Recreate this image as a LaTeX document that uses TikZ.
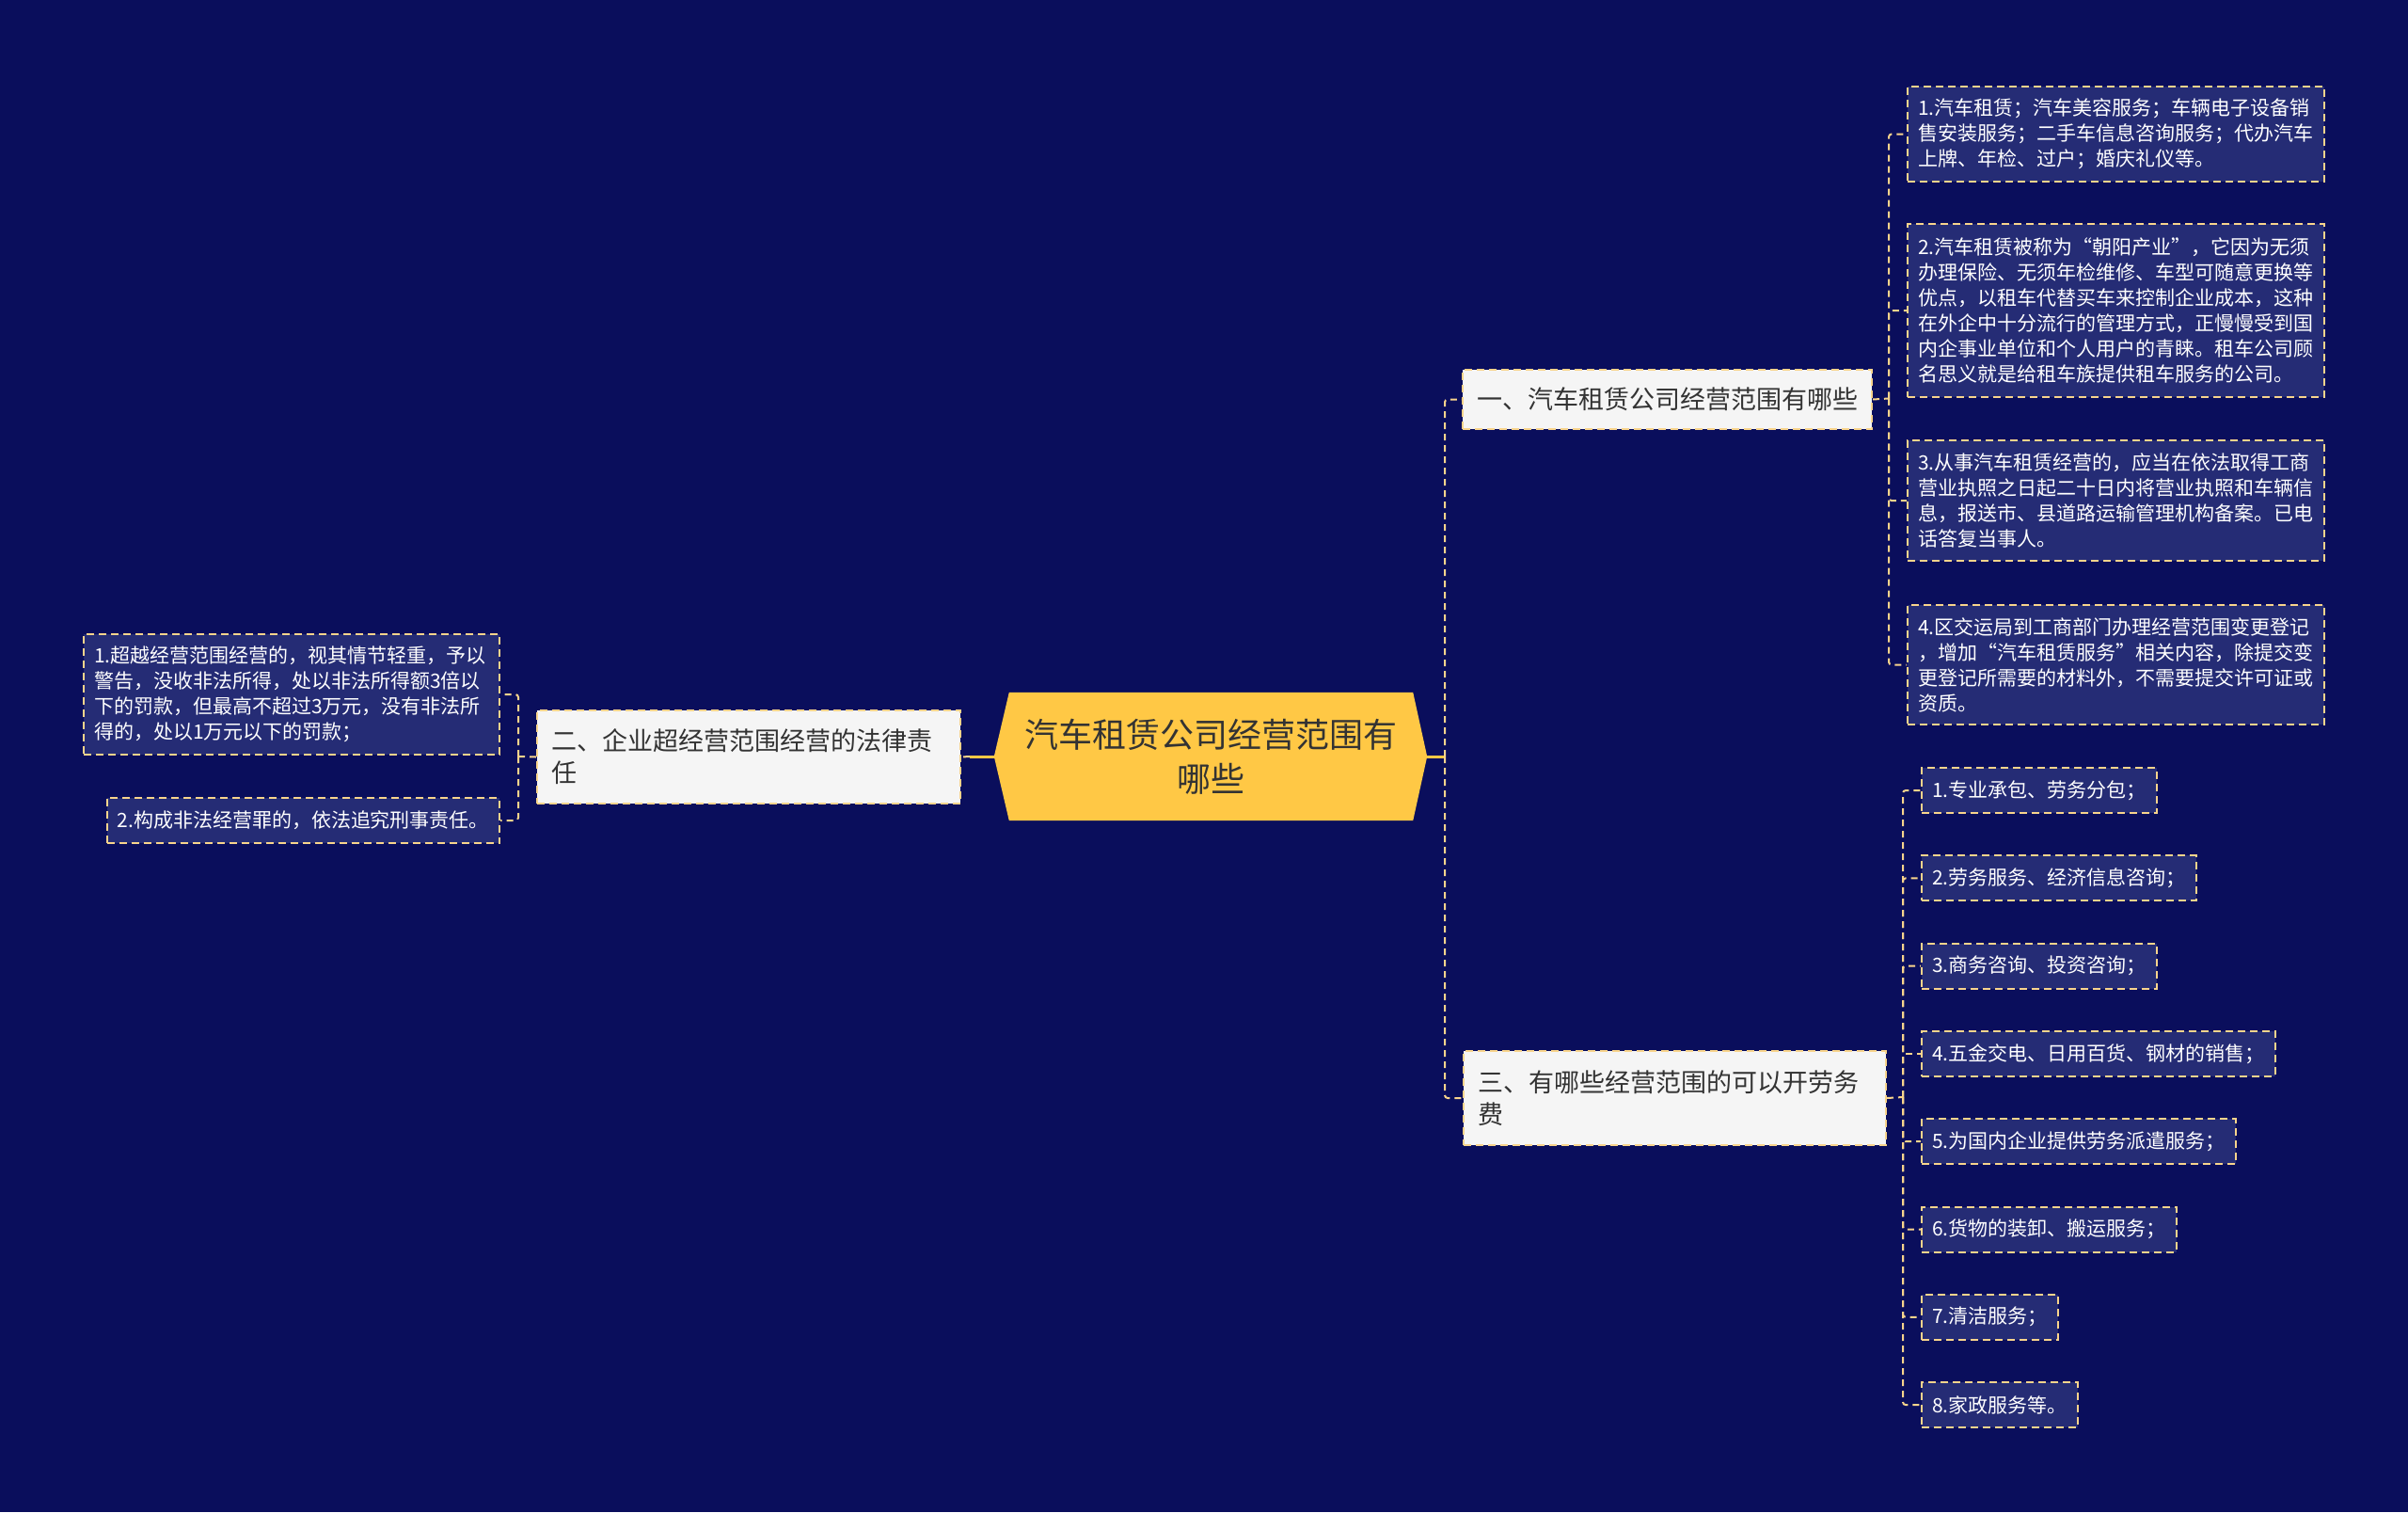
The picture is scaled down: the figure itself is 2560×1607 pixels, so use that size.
\documentclass[tikz,border=0pt]{standalone}
\usepackage{fontspec}
\setmainfont{Noto Sans CJK SC}
\usetikzlibrary{positioning,backgrounds}
\definecolor{PageNavy}{RGB}{10,14,92}
\definecolor{LeafNavy}{RGB}{37,44,117}
\definecolor{CoreYellow}{RGB}{255,200,69}
\definecolor{LinkYellow}{RGB}{248,212,140}
\definecolor{BranchFill}{RGB}{245,245,245}
\definecolor{InkGray}{RGB}{51,51,51}
\tikzset{
  rootnode/.style={minimum width=460pt,minimum height=136pt,align=center,
    text=InkGray,font=\fontsize{36pt}{47pt}\selectfont},
  branchbox/.style={draw=LinkYellow,fill=BranchFill,line width=2pt,
    dash pattern=on 8pt off 5pt,inner xsep=15pt,align=left,text=InkGray,
    font=\fontsize{27pt}{34pt}\selectfont},
  leafbox/.style={draw=LinkYellow,fill=LeafNavy,line width=2pt,
    dash pattern=on 8pt off 5pt,inner xsep=11pt,inner ysep=10pt,align=left,
    text=white,font=\fontsize{21pt}{27pt}\selectfont},
  link/.style={draw=LinkYellow,line width=2pt,dash pattern=on 7pt off 5pt,
    rounded corners=3pt},
  rootlink/.style={draw=CoreYellow,line width=3pt}
}

\begin{document}
\begin{tikzpicture}[x=1pt,y=-1pt]
  \begin{scope}[on background layer]
    \fill[PageNavy] (0,0) rectangle (2560,1607);
  \end{scope}
  \useasboundingbox (0,0) rectangle (2560,1607);

  % centre
  \node[rootnode] (root) at (1287,804) {汽车租赁公司经营范围有\\哪些};
  \begin{scope}[on background layer]
    \fill[CoreYellow] (root.west) -- ([xshift=16pt]root.north west)
      -- ([xshift=-15pt]root.north east) -- (root.east)
      -- ([xshift=-15pt]root.south east) -- ([xshift=16pt]root.south west)
      -- cycle;
  \end{scope}

  % branches
  \node[branchbox,text width=405pt,minimum height=63pt,anchor=north west]
    (scopebox) at (1554,392) {一、汽车租赁公司经营范围有哪些};
  \node[branchbox,text width=420pt,minimum height=99pt,anchor=north west]
    (lawbox) at (570,754) {二、企业超经营范围经营的法律责\\任};
  \node[branchbox,text width=419pt,minimum height=100pt,anchor=north west]
    (laborbox) at (1555,1116) {三、有哪些经营范围的可以开劳务\\费};

  % scope leaves
  \node[leafbox,text width=421pt,minimum height=101pt,anchor=north west]
    (rent1) at (2027,91) {1.汽车租赁；汽车美容服务；车辆电子设备销\\
    售安装服务；二手车信息咨询服务；代办汽车\\上牌、年检、过户；婚庆礼仪等。};
  \node[leafbox,text width=421pt,minimum height=184pt,anchor=north west]
    (rent2) at (2027,237) {2.汽车租赁被称为“朝阳产业”，它因为无须\\
    办理保险、无须年检维修、车型可随意更换等\\
    优点，以租车代替买车来控制企业成本，这种\\
    在外企中十分流行的管理方式，正慢慢受到国\\
    内企事业单位和个人用户的青睐。租车公司顾\\
    名思义就是给租车族提供租车服务的公司。};
  \node[leafbox,text width=421pt,minimum height=128pt,anchor=north west]
    (rent3) at (2027,467) {3.从事汽车租赁经营的，应当在依法取得工商\\
    营业执照之日起二十日内将营业执照和车辆信\\
    息，报送市、县道路运输管理机构备案。已电\\话答复当事人。};
  \node[leafbox,text width=421pt,minimum height=127pt,anchor=north west]
    (rent4) at (2027,642) {4.区交运局到工商部门办理经营范围变更登记\\
    ，增加“汽车租赁服务”相关内容，除提交变\\
    更登记所需要的材料外，不需要提交许可证或\\资质。};

  % law leaves
  \node[leafbox,text width=420pt,minimum height=128pt,anchor=north east]
    (fine1) at (532,673) {1.超越经营范围经营的，视其情节轻重，予以\\
    警告，没收非法所得，处以非法所得额3倍以\\
    下的罚款，但最高不超过3万元，没有非法所\\得的，处以1万元以下的罚款；};
  \node[leafbox,minimum height=48pt,anchor=north east]
    (fine2) at (532,847) {2.构成非法经营罪的，依法追究刑事责任。};

  % labor leaves
  \foreach \txt [count=\i] in {1.专业承包、劳务分包；,2.劳务服务、经济信息咨询；,
      3.商务咨询、投资咨询；,4.五金交电、日用百货、钢材的销售；,
      5.为国内企业提供劳务派遣服务；,6.货物的装卸、搬运服务；,
      7.清洁服务；,8.家政服务等。}
    \node[leafbox,minimum height=48pt,anchor=north west]
      (labor\i) at (2042,{815+93.3*(\i-1)}) {\txt};

  % connectors
  \coordinate (hub) at (1536,804);
  \coordinate (lknee) at (1031,804);
  \coordinate (lhub) at (551,804);
  \coordinate (rhub1) at (2008,423.5);
  \coordinate (rhub3) at (2023,1166);
  \draw[rootlink] (root.east) -- (hub);
  \draw[rootlink] (root.west) -- (lknee);
  \draw[link] (lknee) -- (lawbox.east);
  \draw[link] (hub) |- (scopebox.west);
  \draw[link] (hub) |- (laborbox.west);
  \draw[link] (lawbox.west) -- (lhub);
  \foreach \n in {fine1,fine2}
    \draw[link] (lhub) |- (\n.east);
  \draw[link] (scopebox.east) -- (rhub1);
  \foreach \n in {rent1,rent2,rent3,rent4}
    \draw[link] (rhub1) |- (\n.west);
  \draw[link] (laborbox.east) -- (rhub3);
  \foreach \i in {1,...,8}
    \draw[link] (rhub3) |- (labor\i.west);
\end{tikzpicture}
\end{document}
